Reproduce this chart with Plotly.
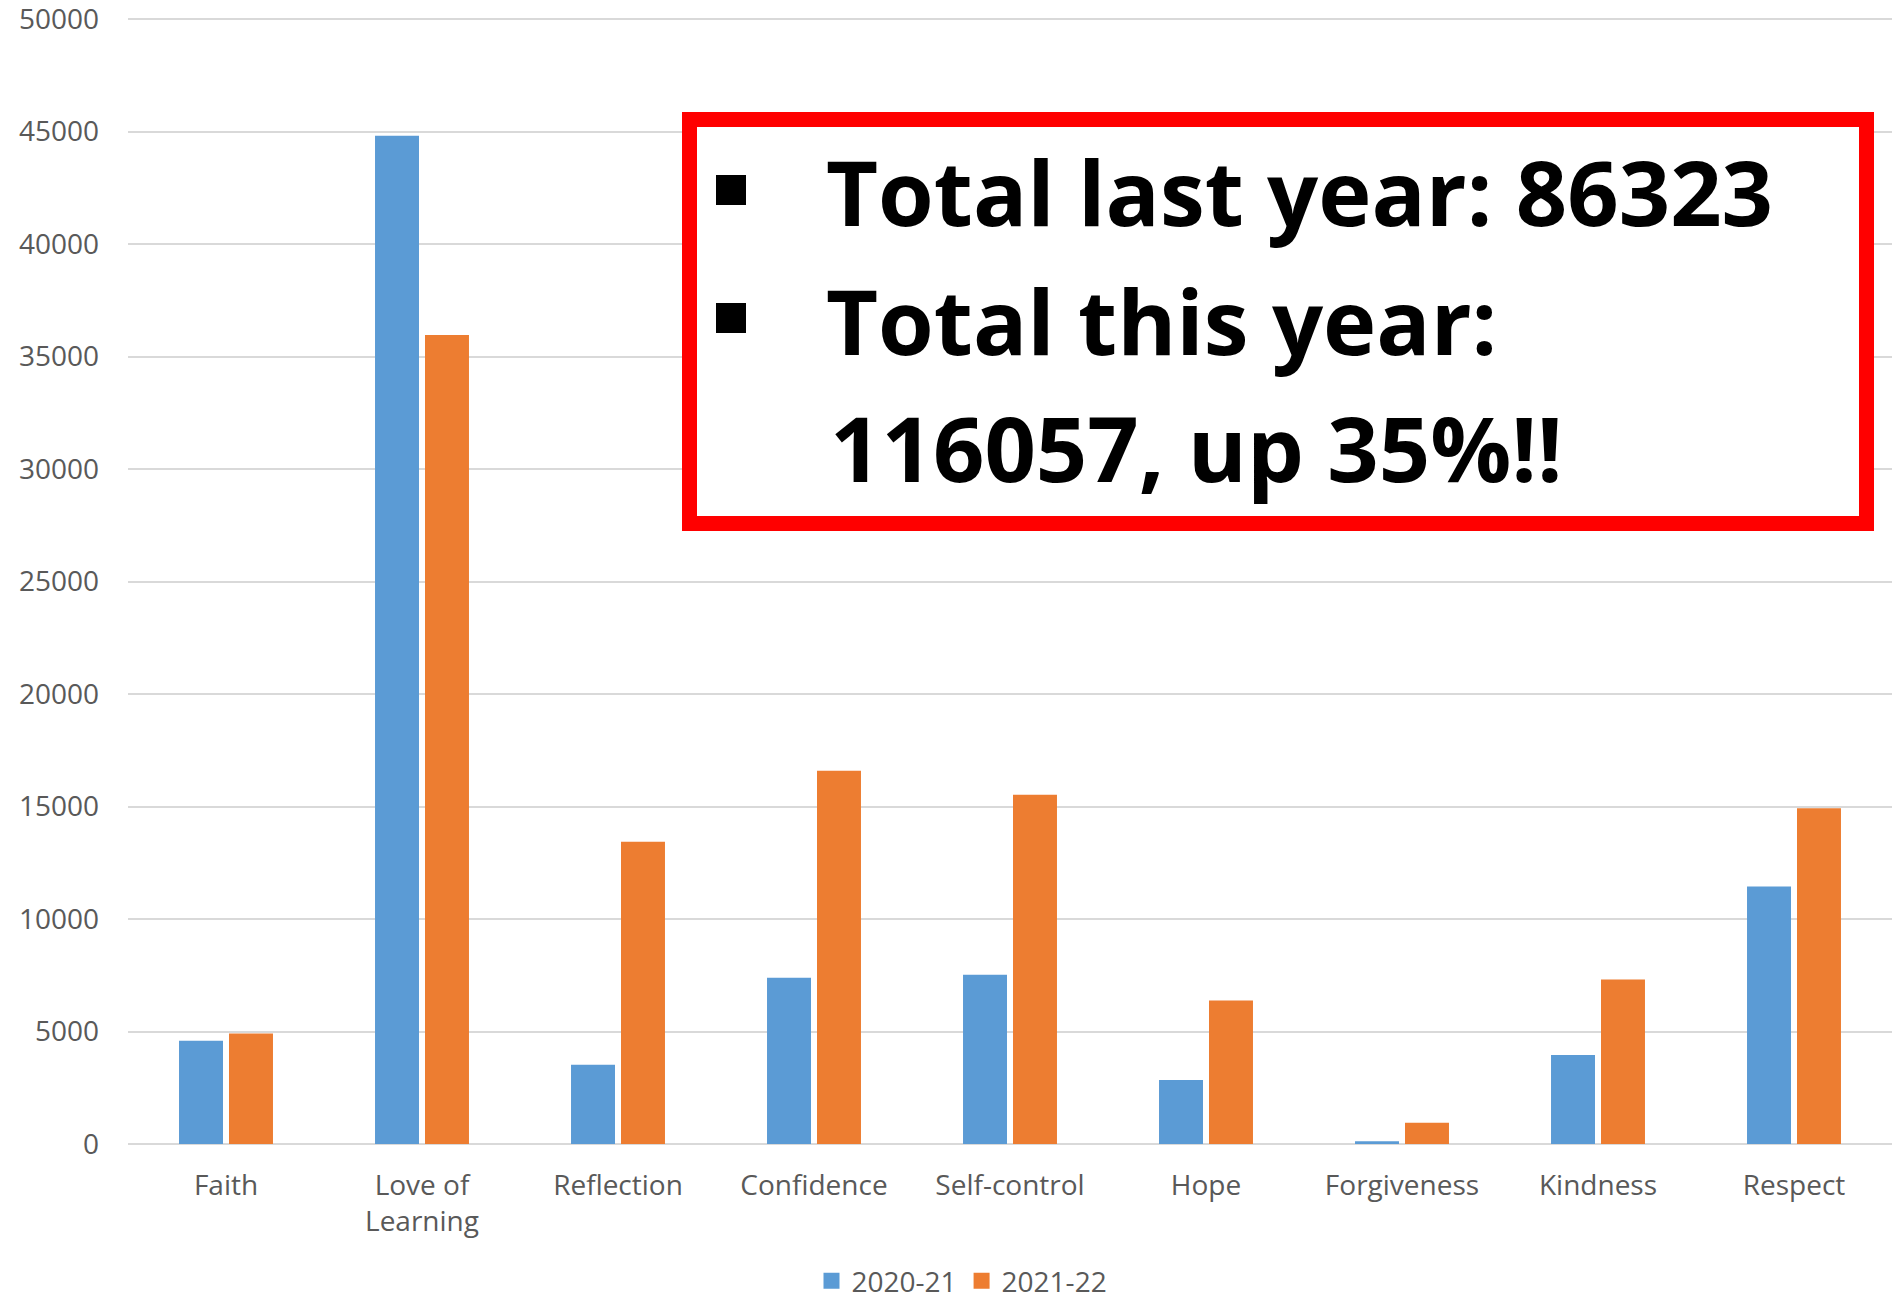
import plotly.graph_objects as go

# ---- data ----
categories = ["Faith", "Love of<br>Learning", "Reflection", "Confidence", "Self-control",
              "Hope", "Forgiveness", "Kindness", "Respect"]
series_names = ["2020-21", "2021-22"]
values_2020_21 = [4590, 44810, 3520, 7390, 7520, 2850, 120, 3960, 11450]
values_2021_22 = [4910, 35960, 13430, 16590, 15520, 6380, 940, 7310, 14920]
y_ticks = [0, 5000, 10000, 15000, 20000, 25000, 30000, 35000, 40000, 45000, 50000]
callout_lines = ["Total last year: 86323", "Total this year:", "116057, up 35%!!"]

# ---- geometry helpers (figure pixels -> paper coords) ----
W, H = 1892, 1301
ML, MR, MT, MB = 128, 0, 16, 157
PW, PH = W - ML - MR, H - MT - MB
Y_TOP = 50000 * (PH / (PH - 3))   # 50000 sits 3px below the plot top


def px(x):
    return (x - ML) / PW


def py(y):
    return (H - MB - y) / PH


BLUE = "#5B9BD5"
ORANGE = "#ED7D31"
GRID = "#D9D9D9"
TXT = "#595959"
FONT = "Open Sans"

fig = go.Figure()
for name, vals, col in [(series_names[0], values_2020_21, BLUE),
                        (series_names[1], values_2021_22, ORANGE)]:
    fig.add_trace(go.Bar(x=categories, y=vals, name=name, legendgroup=name,
                         showlegend=False,
                         marker=dict(color=col, line=dict(width=0))))
# legend entries with larger square swatches
for name, col in [(series_names[0], BLUE), (series_names[1], ORANGE)]:
    fig.add_trace(go.Scatter(x=[None], y=[None], mode="markers", name=name,
                             legendgroup=name, showlegend=True,
                             marker=dict(symbol="square", size=16, color=col)))

shapes = [
    # red callout box
    dict(type="rect", xref="paper", yref="paper", layer="above",
         x0=px(689.5), x1=px(1866.5), y0=py(523.5), y1=py(119.5),
         line=dict(color="#FF0000", width=15), fillcolor="white"),
    # bullets
    dict(type="rect", xref="paper", yref="paper", layer="above",
         x0=px(716), x1=px(746), y0=py(205), y1=py(175),
         line=dict(width=0), fillcolor="black"),
    dict(type="rect", xref="paper", yref="paper", layer="above",
         x0=px(716), x1=px(746), y0=py(333), y1=py(303),
         line=dict(width=0), fillcolor="black"),
]

annotations = []
line_specs = [(824, 191), (824, 320), (828, 447)]
for text, (lx, ly) in zip(callout_lines, line_specs):
    annotations.append(dict(
        text="<b>" + text + "</b>", xref="paper", yref="paper",
        x=px(lx), y=py(ly), xanchor="left", yanchor="middle",
        showarrow=False, font=dict(family=FONT, size=90, color="black")))

fig.update_layout(
    width=W, height=H,
    margin=dict(l=ML, r=MR, t=MT, b=MB, autoexpand=False),
    plot_bgcolor="white", paper_bgcolor="white",
    barmode="group", bargap=0.49, bargroupgap=0.12,
    font=dict(family=FONT, size=28, color=TXT),
    xaxis=dict(showgrid=False, showline=False, ticks="", automargin=False,
               ticklabelstandoff=22,
               tickfont=dict(family=FONT, size=28, color=TXT)),
    yaxis=dict(range=[0, Y_TOP], tickvals=y_ticks, tickformat="d", automargin=False,
               showgrid=True, gridcolor=GRID, gridwidth=2,
               zeroline=True, zerolinecolor=GRID, zerolinewidth=2,
               showline=False, ticks="", ticklabelstandoff=28,
               ticklabeloverflow="allow",
               tickfont=dict(family=FONT, size=28, color=TXT)),
    legend=dict(orientation="h", xref="container", yref="container",
                x=962 / W, y=(H - 1281) / H,
                xanchor="center", yanchor="middle", itemsizing="trace",
                font=dict(family=FONT, size=28, color=TXT)),
    shapes=shapes, annotations=annotations,
)

fig.write_html("out.html", config={"displayModeBar": False},
               post_script="document.body.style.margin='0';")
